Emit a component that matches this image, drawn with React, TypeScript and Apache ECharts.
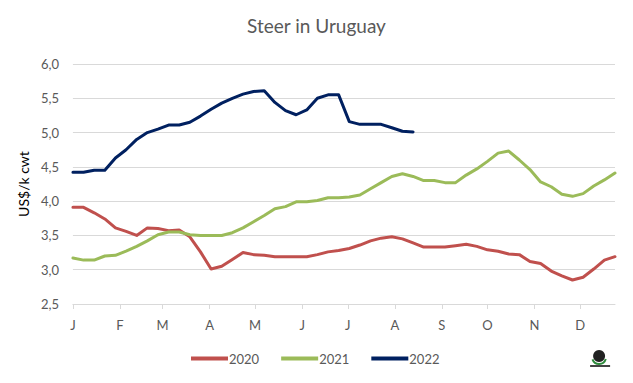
import React, { useEffect, useRef } from "react";
import * as echarts from "echarts";

const monthLabels = ["J", "F", "M", "A", "M", "J", "J", "A", "S", "O", "N", "D"];
const monthStartDays = [0, 31, 59, 90, 120, 151, 181, 212, 243, 273, 304, 334];
const yTicks = [2.5, 3.0, 3.5, 4.0, 4.5, 5.0, 5.5, 6.0];

const seriesNames = ["2020", "2021", "2022"];

const values2020 = [
  3.91, 3.91, 3.83, 3.74, 3.61, 3.56, 3.5, 3.61, 3.6, 3.57, 3.58, 3.48, 3.26,
  3.01, 3.05, 3.15, 3.25, 3.22, 3.21, 3.19, 3.19, 3.19, 3.19, 3.22, 3.26, 3.28,
  3.31, 3.36, 3.42, 3.46, 3.48, 3.45, 3.39, 3.33, 3.33, 3.33, 3.35, 3.37, 3.34,
  3.29, 3.27, 3.23, 3.22, 3.12, 3.09, 2.98, 2.91, 2.85, 2.89, 3.01, 3.14, 3.19,
];

const values2021 = [
  3.17, 3.14, 3.14, 3.2, 3.21, 3.27, 3.34, 3.42, 3.51, 3.55, 3.55, 3.51, 3.5,
  3.5, 3.5, 3.54, 3.61, 3.7, 3.79, 3.89, 3.92, 3.99, 3.99, 4.01, 4.05, 4.05,
  4.06, 4.09, 4.18, 4.27, 4.36, 4.4, 4.36, 4.3, 4.3, 4.27, 4.27, 4.38, 4.47,
  4.58, 4.7, 4.73, 4.6, 4.46, 4.28, 4.21, 4.1, 4.07, 4.11, 4.22, 4.31, 4.41,
];

const values2022 = [
  4.42, 4.42, 4.45, 4.45, 4.63, 4.75, 4.9, 5.0, 5.05, 5.11, 5.11, 5.15, 5.24,
  5.34, 5.43, 5.5, 5.56, 5.6, 5.61, 5.44, 5.32, 5.26, 5.33, 5.5, 5.55, 5.55,
  5.16, 5.12, 5.12, 5.12, 5.07, 5.02, 5.01,
];

const colors = ["#C0504D", "#9BBB59", "#002060"];

const monthStartWeeks = monthStartDays.map((d) => d / 7);

export default function App() {
  const ref = useRef<HTMLDivElement>(null);
  useEffect(() => {
    if (!ref.current) return;
    const chart = echarts.init(ref.current, null, { renderer: "svg" });
    const toPairs = (arr: number[]) => arr.map((v, i) => [i, v]);
    const allData = [values2020, values2021, values2022];
    const font = "Lato, 'Open Sans', sans-serif";
    chart.setOption({
      animation: false,
      textStyle: { fontFamily: font },
      title: {
        text: "Steer in Uruguay",
        left: "center",
        top: 3,
        textStyle: { fontSize: 19, fontWeight: "normal", color: "#595959", fontFamily: font },
      },
      grid: { left: 58, right: 10, top: 56, bottom: 71, containLabel: false },
      legend: {
        bottom: 5,
        left: 178,
        itemWidth: 37,
        itemHeight: 4,
        itemGap: 22,
        icon: "rect",
        data: seriesNames,
        textStyle: { fontSize: 13, color: "#595959", fontFamily: font, padding: [0, 0, 0, -4] },
      },
      xAxis: {
        type: "value",
        min: 0,
        max: 51,
        splitLine: { show: false },
        axisLine: { show: true, lineStyle: { color: "#D9D9D9", width: 1 } },
        axisTick: {
          show: true,
          customValues: monthStartWeeks,
          length: 5,
          lineStyle: { color: "#D9D9D9" },
        },
        axisLabel: {
          customValues: monthStartWeeks,
          margin: 14,
          fontSize: 13,
          color: "#595959",
          fontFamily: font,
          formatter: (v: number) => {
            let best = 0;
            let bd = Infinity;
            monthStartWeeks.forEach((w, i) => {
              const d = Math.abs(w - v);
              if (d < bd) {
                bd = d;
                best = i;
              }
            });
            return monthLabels[best];
          },
        },
      },
      yAxis: {
        type: "value",
        min: yTicks[0],
        max: yTicks[yTicks.length - 1],
        interval: 0.5,
        name: "US$/k cwt",
        nameLocation: "middle",
        nameGap: 40,
        nameTextStyle: { fontSize: 14, color: "#000000", fontFamily: font },
        axisLine: { show: false },
        axisTick: { show: false },
        splitLine: { lineStyle: { color: "#D9D9D9", width: 1 } },
        axisLabel: {
          fontSize: 13,
          color: "#595959",
          margin: 14,
          fontFamily: font,
          formatter: (v: number) => v.toFixed(1).replace(".", ","),
        },
      },
      series: seriesNames.map((name, i) => ({
        name,
        type: "line",
        data: toPairs(allData[i]),
        showSymbol: false,
        symbol: "none",
        smooth: false,
        color: colors[i],
        lineStyle: { color: colors[i], width: 3, cap: "round", join: "round" },
      })),
      graphic: [
        {
          type: "group",
          left: 582,
          top: 342,
          children: [
            { type: "circle", shape: { cx: 9, cy: 8, r: 6 }, style: { fill: "#222" } },
            { type: "arc", shape: { cx: 9, cy: 9, r: 7, startAngle: 0.3, endAngle: 2.8 }, style: { stroke: "#2e8b3c", lineWidth: 2, fill: "none" } },
            { type: "rect", shape: { x: 0, y: 17, width: 20, height: 2 }, style: { fill: "#444" } },
          ],
        },
      ],
    });
    return () => chart.dispose();
  }, []);
  return <div ref={ref} style={{ width: 617, height: 367 }} />;
}
